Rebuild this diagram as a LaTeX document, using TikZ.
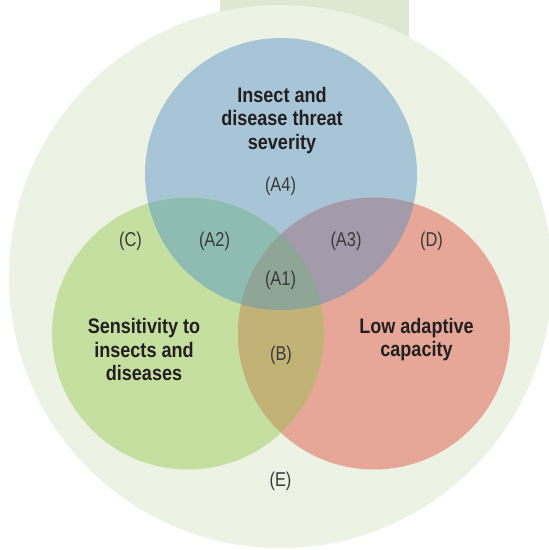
\documentclass[tikz,border=0pt]{standalone}
\usepackage{fontspec}
\setmainfont{Liberation Sans}[FakeStretch=0.86]
\newfontfamily\regionfont{Liberation Sans}[FakeStretch=0.82]
\definecolor{tabfill}{HTML}{DCE8D2}
\definecolor{outfill}{HTML}{ECF2E4}
\definecolor{thrfill}{HTML}{A7C5D7}
\definecolor{senfill}{HTML}{C5DFA0}
\definecolor{capfill}{HTML}{E6A799}
\definecolor{thrsen}{HTML}{8EBCB2}
\definecolor{thrcap}{HTML}{A39AAA}
\definecolor{sencap}{HTML}{C3B276}
\definecolor{allfill}{HTML}{8FA596}
\definecolor{txtdark}{HTML}{231F20}
\definecolor{txtgray}{HTML}{3A3A3A}
\begin{document}
\begin{tikzpicture}[x=1pt,y=-1pt,
  title/.style={align=center,inner sep=0pt,text=txtdark,font=\bfseries\fontsize{21}{23.5}\selectfont},
  region/.style={inner sep=0pt,text=txtgray,font=\regionfont\fontsize{20}{22}\selectfont}]
\useasboundingbox (0,0) rectangle (549,550);
\coordinate (ctr) at (280.5,276.5);
\coordinate (thr) at (281,174);
\coordinate (sen) at (188,333.5);
\coordinate (cap) at (374,333.5);
\fill[tabfill] (220,0) rectangle (409,40);
\fill[outfill] (ctr) circle (271.5pt);
\fill[thrfill] (thr) circle (136pt);
\fill[senfill] (sen) circle (136pt);
\fill[capfill] (cap) circle (136pt);
\begin{scope}
\clip (sen) circle (136pt);
\fill[sencap] (cap) circle (136pt);
\end{scope}
\begin{scope}
\clip (thr) circle (136pt);
\fill[thrsen] (sen) circle (136pt);
\fill[thrcap] (cap) circle (136pt);
\clip (sen) circle (136pt);
\fill[allfill] (cap) circle (136pt);
\end{scope}
\node[title] (thrtxt) at (282,120.5) {Insect and\\disease threat\\severity};
\node[title] (sentxt) at (144,349.5) {Sensitivity to\\insects and\\diseases};
\node[title] (captxt) at (416.5,339.5) {Low adaptive\\capacity};
\node[region] (a4) at (280.5,186.5) {(A4)};
\node[region] (c) at (130.5,241) {(C)};
\node[region] (a2) at (214.5,241) {(A2)};
\node[region] (a3) at (346,241) {(A3)};
\node[region] (d) at (431.5,241) {(D)};
\node[region] (a1) at (280.5,280.5) {(A1)};
\node[region] (b) at (281,355.5) {(B)};
\node[region] (e) at (280.5,481) {(E)};
\end{tikzpicture}
\end{document}
